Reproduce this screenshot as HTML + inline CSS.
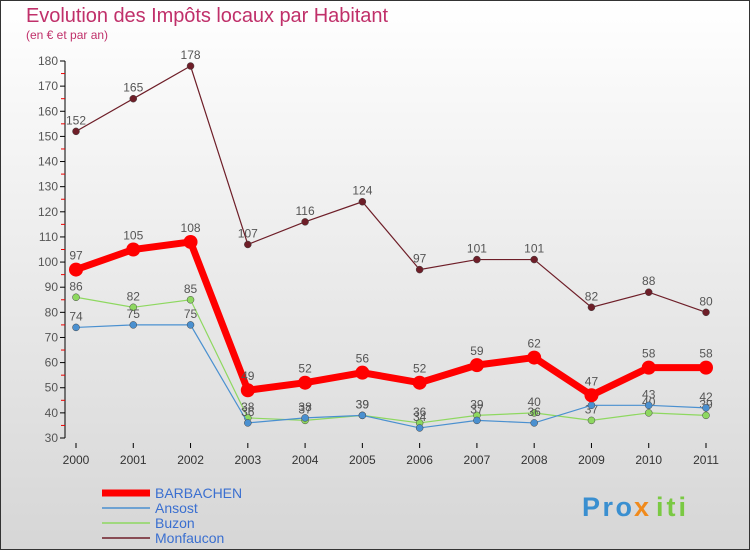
<!DOCTYPE html>
<html><head><meta charset="utf-8"><style>
body{margin:0}
#c{width:750px;height:550px;position:relative;font-family:"Liberation Sans",sans-serif}
</style></head><body>
<div id="c">
<svg id="s" width="750" height="550" xmlns="http://www.w3.org/2000/svg">
<defs><linearGradient id="bg" x1="0" y1="0" x2="0" y2="1"><stop offset="0" stop-color="#ffffff"/><stop offset="1" stop-color="#d6d6d6"/></linearGradient></defs>
<rect x="0.5" y="0.5" width="749" height="549" fill="url(#bg)" stroke="#333"/>
<text x="26" y="22" font-size="20" fill="#c0306a" textLength="362">Evolution des Impôts locaux par Habitant</text>
<text x="26" y="39" font-size="12" fill="#c0306a">(en € et par an)</text>
<g id="g"></g>
<g font-size="27" font-weight="bold">
<text x="582" y="516" fill="#3a8fd0" textLength="50">Pro</text><text x="634" y="516" fill="#f08a1c">x</text><text x="656" y="516" fill="#7ac943" textLength="30">iti</text>
</g>
</svg></div>
<script>
const years=["2000","2001","2002","2003","2004","2005","2006","2007","2008","2009","2010","2011"];
const barbachen=[97,105,108,49,52,56,52,59,62,47,58,58];
const ansost=[74,75,75,36,38,39,34,37,36,43,43,42];
const buzon=[86,82,85,38,37,39,36,39,40,37,40,39];
const monfaucon=[152,165,178,107,116,124,97,101,101,82,88,80];
const yTicks=[30,40,50,60,70,80,90,100,110,120,130,140,150,160,170,180];
const NS="http://www.w3.org/2000/svg",g=document.getElementById('g');
const X=i=>76+i*(630/11), Y=v=>438-(v-30)*(377/150);
function el(t,a,p){const e=document.createElementNS(NS,t);for(const k in a)e.setAttribute(k,a[k]);(p||g).appendChild(e);return e;}
const ax=el('line',{x1:65,y1:Y(180),x2:65,y2:Y(30),stroke:'#000'});

yTicks.forEach(v=>{const t=el('line',{x1:60,x2:65,y1:Y(v),y2:Y(v),stroke:'#000'});

const l=el('text',{x:58,y:Y(v)+4,'text-anchor':'end','font-size':12,fill:'#555'});l.textContent=v;

if(v<180){const m=el('line',{x1:61,x2:65,y1:Y(v+5),y2:Y(v+5),stroke:'#e00'});
}});
years.forEach((y,i)=>{const t=el('line',{x1:X(i),x2:X(i),y1:443,y2:448,stroke:'#000'});

const l=el('text',{x:X(i),y:464,'text-anchor':'middle','font-size':12,fill:'#333'});l.textContent=y;
});
const series=[[monfaucon,'#6e1e28',1.2,3.5,'monfaucon'],[buzon,'#8ed860',1.2,3.5,'buzon'],[ansost,'#4a90d0',1.2,3.5,'ansost'],[barbachen,'#ff0000',7,7,'barbachen']];
series.forEach(([d,c,w,r,n])=>{const p=el('polyline',{points:d.map((v,i)=>X(i)+','+Y(v)).join(' '),fill:'none',stroke:c,'stroke-width':w});

d.forEach((v,i)=>{const ci=el('circle',{cx:X(i),cy:Y(v),r:r,fill:c,stroke:n=='barbachen'?'none':'#444','stroke-width':0.5});

const l=el('text',{x:X(i),y:Y(v)-(n=='barbachen'?10:7),'text-anchor':'middle','font-size':12,fill:'#555'});l.textContent=v;
});});
const leg=[['BARBACHEN','#ff0000',7],['Ansost','#4a90d0',1.5],['Buzon','#8ed860',1.5],['Monfaucon','#6e1e28',1.5]];
leg.forEach(([t,c,w],i)=>{const y=493+i*15;const l=el('line',{x1:102,x2:150,y1:y,y2:y,stroke:c,'stroke-width':w});

const tx=el('text',{x:155,y:y+5,'font-size':14,fill:'#3a6fd0'});tx.textContent=t;
});
</script>
</body></html>
